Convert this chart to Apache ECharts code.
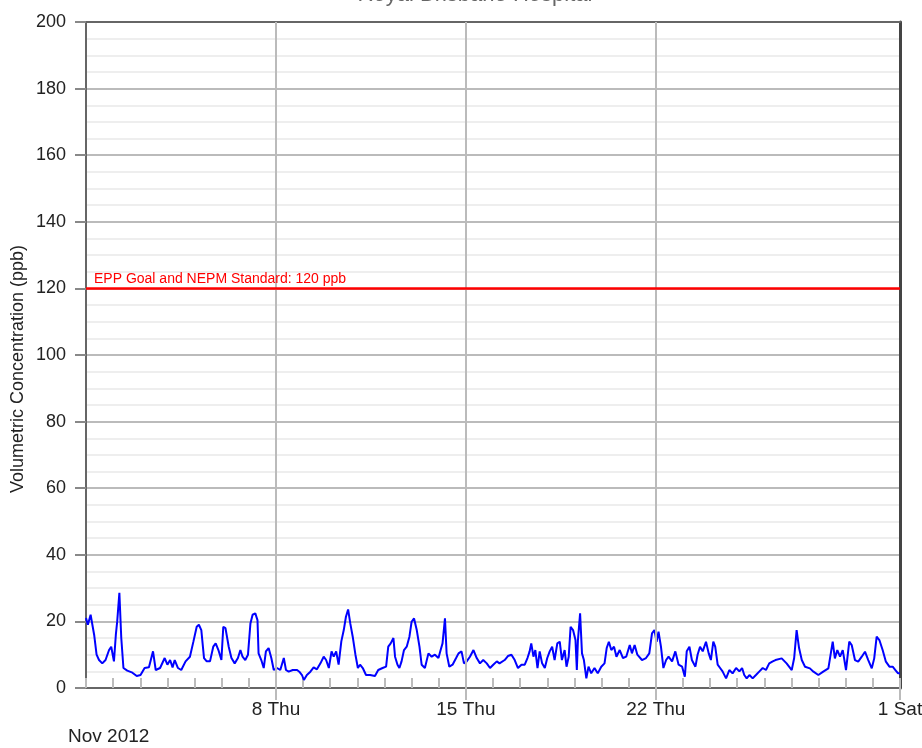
<!DOCTYPE html>
<html>
<head>
<meta charset="utf-8">
<script src="https://cdn.jsdelivr.net/npm/echarts@6/dist/echarts.min.js"></script>
<style>html,body{margin:0;padding:0;background:#fff}#c{width:922px;height:748px}</style>
</head>
<body>
<div id="c"></div>
<script>
// Days since 1 Nov 2012 00:00
const dayOffsets = [
0,0.07,0.17,0.3,0.39,0.48,0.6,0.72,0.85,0.93,1.03,1.1,1.15,1.23,1.3,1.38,1.52,1.71,1.87,2.01,
2.16,2.32,2.47,2.57,2.73,2.9,3.0,3.1,3.19,3.27,3.39,3.51,3.67,3.83,3.96,4.08,4.16,4.25,4.35,4.45,
4.57,4.69,4.78,4.88,4.99,5.06,5.14,5.26,5.36,5.48,5.6,5.69,5.77,5.87,5.97,6.06,6.14,6.24,6.32,6.36,
6.46,6.55,6.63,6.73,6.83,6.92,7.04,7.16,7.29,7.37,7.47,7.62,7.78,7.86,7.96,8.03,8.14,8.27,8.39,8.51,
8.64,8.76,8.85,8.95,9.05,9.13,9.22,9.31,9.41,9.5,9.58,9.66,9.74,9.83,9.93,10.02,10.1,10.2,10.32,10.47,
10.65,10.77,10.93,11.06,11.14,11.23,11.33,11.39,11.48,11.55,11.63,11.72,11.82,11.92,12.0,12.09,12.19,12.29,12.37,12.49,
12.62,12.74,12.86,12.99,13.07,13.14,13.23,13.29,13.39,13.51,13.64,13.73,13.84,13.93,14.03,14.15,14.28,14.4,14.52,14.64,
14.77,14.89,15.01,15.14,15.24,15.31,15.43,15.55,15.68,15.8,15.92,16.05,16.17,16.27,16.35,16.41,16.49,16.56,16.64,16.72,
16.81,16.91,17.0,17.09,17.18,17.27,17.37,17.46,17.54,17.64,17.71,17.79,17.86,17.95,18.04,18.09,18.13,18.21,18.28,18.35,
18.44,18.52,18.62,18.74,18.86,18.99,19.11,19.19,19.27,19.36,19.46,19.55,19.67,19.79,19.91,20.04,20.12,20.22,20.32,20.49,
20.64,20.76,20.86,20.95,21.03,21.1,21.19,21.28,21.38,21.47,21.6,21.72,21.84,21.97,22.07,22.14,22.24,22.33,22.46,22.54,
22.63,22.73,22.85,22.95,23.03,23.12,23.19,23.28,23.37,23.46,23.59,23.71,23.83,23.96,24.08,24.18,24.26,24.35,24.45,24.57,
24.69,24.82,24.94,25.06,25.18,25.31,25.41,25.64,25.82,26.01,26.1,26.19,26.28,26.38,26.5,26.68,26.81,26.99,27.17,27.36,
27.52,27.6,27.69,27.79,27.89,28.01,28.13,28.22,28.34,28.46,28.59,28.71,28.83,28.96,29.05,29.14,29.24,29.36,29.48,29.61,
29.73,29.83,29.93,30.0
];
// Volumetric concentration (ppb)
const values = [
21,19,22,16,10,8.4,7.4,8.4,11.4,12.4,8,16,20,28.6,15,6,5.2,4.6,3.6,3.9,
6,6.2,11,5.4,6,9,7,8.4,6.2,8.4,6,5.4,8,9.4,14,18.4,19,17.4,9,8,
8,12.4,13.4,11.4,8.4,18.4,18,12.4,9,7.4,9,11.4,9.4,8.4,10,19.4,22,22.4,20.4,10.4,
8.4,6,11,12,9,5.4,6,5.4,9,5.4,4.9,5.4,5.4,4.9,3.9,2.4,3.9,4.9,6.2,5.6,
7.4,9.4,8.4,6,11,9.4,11,7,14,17.4,21.4,23.6,19.4,15.4,10,6,7,6,3.9,3.9,
3.6,5.4,6,6.4,12.4,13.4,15,9.4,7,6,8,11.4,12.4,15.4,19.9,20.9,17.4,12.4,7,6,
10.4,9.4,10,9,11.4,13.4,20.9,10.4,6.4,7,9,10.4,11,7.4,8,9.4,11.4,9,7.4,8.4,
7.4,6,7,8,7.4,7,8.4,9.6,10,8.4,6,7,7,9,11,13.4,9.4,11.4,6,11,
7.4,6,9,11,12.4,8.4,13.4,13.9,8.4,11.4,6.4,9.4,18.4,17.4,14.4,5.4,14.4,22.4,10.4,8.4,
2.9,6.4,4.4,6,4.4,6.4,7.4,12,13.9,11.4,12.4,9.4,11.4,9,9.4,12.9,10.4,12.9,10,8.4,
9,10.4,16.4,17.4,13.9,16.9,12.4,6,8.4,9.4,8,11,7,6.4,3.4,11,12.4,8.4,6.4,10,
12.4,11,13.9,10.4,8.4,13.9,12.4,7,6,5,2.9,5.4,4.4,6,5,6,3.9,2.9,3.9,2.9,
3.9,5,6,5.4,7.4,8,8.4,8.9,7.4,5.4,9,17.4,12,8.4,6.4,5.9,4.9,3.9,4.9,5.9,
13.9,8.9,11.4,9.4,11.4,5.4,13.9,12.9,8.4,7.9,9.4,10.9,8.4,5.9,8.9,15.4,14.4,11.4,7.9,6.4,
6.4,5.4,4.4,4.4
];
const tickDays = [7, 14, 21, 30];
const tickLabels = ['8 Thu', '15 Thu', '22 Thu', '1 Sat'];
const gridDays = [7, 14, 21];
const standardValue = 120;
const standardLabel = 'EPP Goal and NEPM Standard: 120 ppb';
const chartTitle = 'Royal Brisbane Hospital';
const monthLabel = 'Nov 2012';
const yName = 'Volumetric Concentration (ppb)';

const seriesData = dayOffsets.map((d, i) => [d, values[i]]);
const FONT = '"Liberation Sans", Arial, sans-serif';

const chart = echarts.init(document.getElementById('c'), null, {renderer: 'canvas'});
chart.setOption({
  animation: false,
  backgroundColor: '#fff',
  textStyle: {fontFamily: FONT},
  grid: {left: 86, right: 22, top: 22, bottom: 60, containLabel: false, outerBoundsMode: 'none', show: false},
  graphic: [
    {type: 'text', x: 475, y: 6, style: {text: chartTitle, fontSize: 22, fill: '#666', fontFamily: FONT, align: 'center', verticalAlign: 'bottom'}},
    {type: 'text', x: 68, y: 737, style: {text: monthLabel, fontSize: 19, fill: '#222', fontFamily: FONT, align: 'left', verticalAlign: 'middle'}},
    {type: 'text', x: 18, y: 369, rotation: Math.PI / 2, style: {text: yName, fontSize: 18, fill: '#222', fontFamily: FONT, align: 'center', verticalAlign: 'middle'}}
  ],
  xAxis: [
    {
      type: 'value', min: 0, max: 30, interval: 1,
      axisLine: {show: true, onZero: false, lineStyle: {color: '#666', width: 2}},
      axisTick: {show: true, inside: true, length: 10, lineStyle: {color: '#bbb', width: 2}},
      axisLabel: {
        show: true, margin: 12, fontSize: 19, color: '#222', fontFamily: FONT,
        showMinLabel: true, showMaxLabel: true,
        formatter: v => { const k = tickDays.indexOf(Math.round(v)); return k >= 0 && Math.abs(v - tickDays[k]) < 1e-6 ? tickLabels[k] : ''; }
      },
      splitLine: {show: false}
    },
    {
      type: 'value', min: 0, max: 30, position: 'bottom',
      axisLine: {show: false, onZero: false},
      axisTick: {show: true, inside: false, length: 12, customValues: tickDays, lineStyle: {color: '#bbb', width: 2}},
      axisLabel: {show: false},
      splitLine: {show: false}
    },
    {
      type: 'value', min: 0, max: 30, position: 'top',
      axisLine: {show: true, onZero: false, lineStyle: {color: '#666', width: 2}},
      axisTick: {show: false}, axisLabel: {show: false}, splitLine: {show: false}
    }
  ],
  yAxis: [
    {
      type: 'value', min: 0, max: 200, interval: 20,
      axisLine: {show: true, onZero: false, lineStyle: {color: '#666', width: 2}},
      axisTick: {show: true, inside: false, length: 11, lineStyle: {color: '#888', width: 2}},
      axisLabel: {margin: 20, fontSize: 18, color: '#222', fontFamily: FONT},
      splitLine: {show: true, lineStyle: {color: '#bbb', width: 2}},
      minorTick: {show: false, splitNumber: 4},
      minorSplitLine: {show: true, lineStyle: {color: '#eee', width: 2}}
    },
    {
      type: 'value', min: 0, max: 200, position: 'right',
      axisLine: {show: true, onZero: false, lineStyle: {color: '#444', width: 3}},
      axisTick: {show: false}, axisLabel: {show: false}, splitLine: {show: false}
    }
  ],
  series: [
    {
      type: 'line', data: [], z: 1, silent: true,
      markLine: {
        silent: true, symbol: 'none', animation: false,
        lineStyle: {color: '#bbb', width: 2, type: 'solid'},
        label: {show: false},
        data: gridDays.map(d => ({xAxis: d}))
      }
    },
    {
      type: 'line', data: seriesData, z: 3,
      showSymbol: false, symbol: 'none',
      lineStyle: {color: '#0000ff', width: 2},
      itemStyle: {color: '#0000ff'},
      markLine: {
        silent: true, symbol: 'none', animation: false,
        lineStyle: {color: '#ff0000', width: 2.5, type: 'solid'},
        label: {show: true, position: 'insideStartTop', distance: [8, 2], formatter: standardLabel, color: '#ff0000', fontSize: 14, fontFamily: FONT},
        data: [{yAxis: standardValue}]
      }
    }
  ]
});
</script>
</body>
</html>
